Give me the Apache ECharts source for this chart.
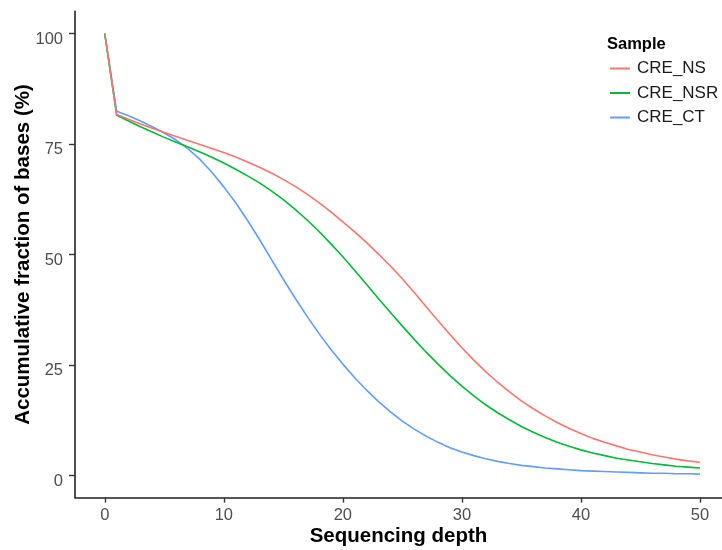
<!DOCTYPE html>
<html>
<head>
<meta charset="utf-8">
<script src="https://cdn.jsdelivr.net/npm/echarts@6/dist/echarts.min.js"></script>
<style>
  html, body { margin: 0; padding: 0; background: #fff; }
  #chart { width: 722px; height: 550px; }
</style>
</head>
<body>
<div id="chart"></div>
<script>
// Sequencing depth (x) and accumulative fraction of bases (%) for each sample
const depth = Array.from({ length: 51 }, (_, i) => i);

const creNS = [100, 81.7, 80.6, 79.55, 78.55, 77.6, 76.7, 75.8, 74.9, 74.0,
  73.05, 72.05, 70.95, 69.75, 68.45, 67.0, 65.4, 63.65, 61.75, 59.65,
  57.4, 55.1, 52.7, 50.1, 47.4, 44.5, 41.4, 38.2, 35.0, 31.9,
  28.9, 26.1, 23.5, 21.1, 18.9, 16.9, 15.1, 13.5, 12.0, 10.7,
  9.5, 8.4, 7.5, 6.7, 5.9, 5.3, 4.7, 4.2, 3.7, 3.3, 3.0];

const creNSR = [100, 81.5, 80.2, 78.9, 77.7, 76.5, 75.4, 74.3, 73.2, 72.0,
  70.7, 69.3, 67.8, 66.2, 64.4, 62.4, 60.2, 57.8, 55.2, 52.4,
  49.5, 46.4, 43.2, 40.0, 36.9, 33.8, 30.8, 27.9, 25.2, 22.6,
  20.2, 18.0, 16.0, 14.2, 12.6, 11.1, 9.8, 8.6, 7.5, 6.6,
  5.8, 5.1, 4.5, 3.9, 3.5, 3.1, 2.7, 2.4, 2.1, 1.9, 1.7];

const creCT = [100, 82.4, 81.4, 80.2, 78.9, 77.5, 75.9, 73.9, 71.5, 68.6,
  65.3, 61.7, 57.7, 53.4, 48.9, 44.4, 40.1, 36.0, 32.1, 28.5,
  25.2, 22.1, 19.3, 16.7, 14.4, 12.3, 10.5, 8.9, 7.5, 6.3,
  5.3, 4.5, 3.8, 3.2, 2.7, 2.3, 2.0, 1.7, 1.5, 1.3,
  1.1, 1.0, 0.9, 0.8, 0.7, 0.6, 0.5, 0.5, 0.4, 0.4, 0.3];

const xTicks = [0, 10, 20, 30, 40, 50];
const yTicks = [0, 25, 50, 75, 100];

const seriesNames = ['CRE_NS', 'CRE_NSR', 'CRE_CT'];
const seriesColors = ['#F8766D', '#00BA38', '#619CFF'];
const seriesValues = [creNS, creNSR, creCT];

const font = '"Liberation Sans", Arial, Helvetica, sans-serif';

const chart = echarts.init(document.getElementById('chart'), null, { renderer: 'canvas' });

chart.setOption({
  animation: false,
  backgroundColor: '#ffffff',
  textStyle: { fontFamily: font },
  title: {
    text: 'Sample',
    left: 607,
    top: 36,
    padding: 0,
    textStyle: { fontFamily: font, fontSize: 16.5, fontWeight: 'bold', color: '#000' }
  },
  legend: {
    orient: 'vertical',
    left: 610,
    top: 60,
    padding: 0,
    icon: 'rect',
    itemWidth: 20,
    itemHeight: 2,
    itemGap: 7.5,
    data: seriesNames,
    textStyle: { fontFamily: font, fontSize: 17, color: '#1a1a1a', padding: [0, 0, 0, 2], lineHeight: 17 }
  },
  grid: {
    left: 75, right: 0, top: 11.4, bottom: 52.4,
    containLabel: false,
    outerBoundsMode: 'none'
  },
  xAxis: {
    type: 'value',
    min: -2.5,
    max: 51.85,
    name: 'Sequencing depth',
    nameLocation: 'middle',
    nameGap: 28,
    nameMoveOverlap: false,
    nameTextStyle: { fontFamily: font, fontSize: 20.5, fontWeight: 'bold', color: '#000' },
    axisLine: { onZero: false, lineStyle: { color: '#222', width: 1.6 } },
    axisTick: { customValues: xTicks, length: 5, lineStyle: { color: '#333', width: 1.4 } },
    axisLabel: { customValues: xTicks, margin: 9.5, fontFamily: font, fontSize: 16.5, color: '#4d4d4d' },
    splitLine: { show: false }
  },
  yAxis: {
    type: 'value',
    min: -5,
    max: 105,
    name: 'Accumulative fraction of bases (%)',
    nameLocation: 'middle',
    nameGap: 41,
    nameMoveOverlap: false,
    nameTextStyle: { fontFamily: font, fontSize: 20.5, fontWeight: 'bold', color: '#000' },
    axisLine: { onZero: false, lineStyle: { color: '#222', width: 1.6 } },
    axisTick: { customValues: yTicks, length: 6, lineStyle: { color: '#333', width: 1.4 } },
    axisLabel: {
      customValues: yTicks, margin: 12, fontFamily: font, fontSize: 16.5, color: '#4d4d4d',
      verticalAlign: 'top', lineHeight: 11
    },
    splitLine: { show: false }
  },
  series: seriesNames.map((name, k) => ({
    name: name,
    type: 'line',
    data: depth.map((d, i) => [d, seriesValues[k][i]]),
    showSymbol: false,
    symbol: 'none',
    smooth: false,
    color: seriesColors[k],
    lineStyle: { color: seriesColors[k], width: 1.6 },
    z: 3 - k
  }))
});
</script>
</body>
</html>
